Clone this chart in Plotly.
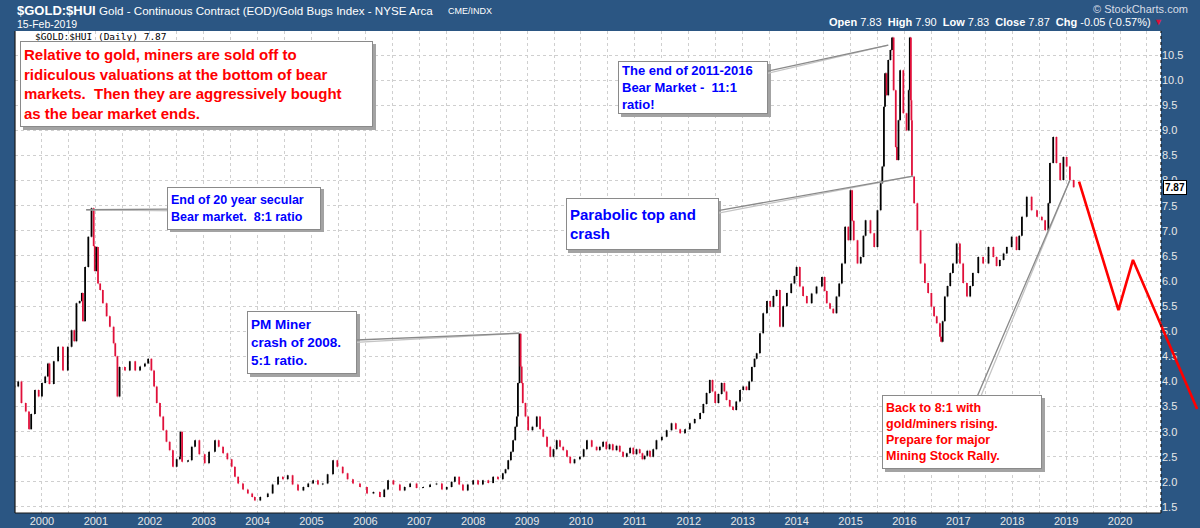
import plotly.graph_objects as go

# ---------------- data ----------------
years = [
    1999.50, 1999.56, 1999.62, 1999.70, 1999.76, 1999.80, 1999.87, 1999.94,
    2000.00, 2000.06, 2000.11, 2000.14, 2000.22, 2000.30, 2000.39, 2000.48,
    2000.55, 2000.60, 2000.64, 2000.70, 2000.74, 2000.76, 2000.80, 2000.86,
    2000.92, 2000.96, 2000.98, 2001.01, 2001.04, 2001.08, 2001.13, 2001.20,
    2001.26, 2001.33, 2001.36, 2001.40, 2001.44, 2001.54, 2001.63, 2001.73,
    2001.82, 2001.91, 2001.97, 2002.03, 2002.08, 2002.13, 2002.19, 2002.25,
    2002.31, 2002.37, 2002.43, 2002.50, 2002.56, 2002.57, 2002.60, 2002.71,
    2002.78, 2002.84, 2002.92, 2003.02, 2003.10, 2003.21, 2003.28, 2003.36,
    2003.44, 2003.52, 2003.58, 2003.64, 2003.73, 2003.82, 2003.90, 2003.95,
    2004.05, 2004.19, 2004.28, 2004.38, 2004.47, 2004.56, 2004.65, 2004.75,
    2004.85, 2004.94, 2005.03, 2005.12, 2005.21, 2005.30, 2005.40, 2005.48,
    2005.58, 2005.67, 2005.77, 2005.90, 2006.03, 2006.15, 2006.27, 2006.35,
    2006.42, 2006.52, 2006.64, 2006.73, 2006.83, 2006.95, 2007.07, 2007.20,
    2007.32, 2007.42, 2007.51, 2007.60, 2007.66, 2007.74, 2007.81, 2007.90,
    2008.00, 2008.09, 2008.18, 2008.28, 2008.37, 2008.46, 2008.55, 2008.60,
    2008.65, 2008.70, 2008.74, 2008.78, 2008.81, 2008.83, 2008.86, 2008.88,
    2008.90, 2008.92, 2008.97, 2009.02, 2009.10, 2009.18, 2009.24, 2009.30,
    2009.37, 2009.43, 2009.49, 2009.55, 2009.61, 2009.67, 2009.74, 2009.80,
    2009.88, 2009.98, 2010.05, 2010.11, 2010.20, 2010.29, 2010.35, 2010.41,
    2010.47, 2010.53, 2010.59, 2010.66, 2010.72, 2010.78, 2010.85, 2010.91,
    2010.97, 2011.03, 2011.09, 2011.14, 2011.18, 2011.23, 2011.28, 2011.34,
    2011.40, 2011.50, 2011.59, 2011.68, 2011.76, 2011.84, 2011.93, 2012.02,
    2012.11, 2012.21, 2012.27, 2012.33, 2012.39, 2012.44, 2012.49, 2012.55,
    2012.61, 2012.66, 2012.70, 2012.76, 2012.82, 2012.88, 2012.95, 2013.01,
    2013.07, 2013.12, 2013.17, 2013.22, 2013.26, 2013.32, 2013.38, 2013.45,
    2013.51, 2013.57, 2013.63, 2013.69, 2013.75, 2013.82, 2013.90, 2013.96,
    2014.00, 2014.06, 2014.12, 2014.19, 2014.28, 2014.37, 2014.47, 2014.52,
    2014.56, 2014.62, 2014.68, 2014.74, 2014.79, 2014.84, 2014.90, 2014.96,
    2015.00, 2015.03, 2015.06, 2015.13, 2015.19, 2015.24, 2015.28, 2015.37,
    2015.44, 2015.50, 2015.56, 2015.59, 2015.62, 2015.64, 2015.67, 2015.70,
    2015.74, 2015.77, 2015.80, 2015.84, 2015.86, 2015.89, 2015.92, 2015.98,
    2016.04, 2016.08, 2016.10, 2016.12, 2016.13, 2016.14, 2016.18, 2016.24,
    2016.30, 2016.38, 2016.44, 2016.50, 2016.55, 2016.60, 2016.66, 2016.68,
    2016.71, 2016.75, 2016.80, 2016.85, 2016.90, 2016.97, 2017.03, 2017.09,
    2017.16, 2017.22, 2017.27, 2017.37, 2017.46, 2017.56, 2017.65, 2017.71,
    2017.77, 2017.84, 2017.90, 2017.99, 2018.08, 2018.13, 2018.18, 2018.27,
    2018.36, 2018.46, 2018.55, 2018.61, 2018.67, 2018.70, 2018.76, 2018.82,
    2018.89, 2018.95, 2019.01, 2019.07, 2019.14,
]
ratio = [
    3.90, 4.00, 3.57, 3.40, 3.05, 3.35, 3.83, 3.70,
    3.97, 4.10, 4.36, 3.95, 4.40, 4.69, 4.22, 4.69,
    5.02, 4.80, 5.56, 5.60, 5.76, 5.20, 6.28, 6.88,
    7.45, 6.70, 6.20, 6.68, 5.95, 5.82, 5.56, 5.30,
    5.09, 4.76, 4.50, 3.70, 4.29, 4.22, 4.40, 4.22,
    4.30, 4.36, 4.45, 4.22, 3.90, 3.57, 3.30, 3.03,
    2.80, 2.63, 2.30, 2.45, 2.50, 3.00, 2.40, 2.43,
    2.70, 2.83, 2.55, 2.37, 2.60, 2.83, 2.70, 2.57,
    2.45, 2.30, 2.10, 1.97, 1.85, 1.77, 1.70, 1.63,
    1.70, 1.77, 1.95, 2.10, 2.05, 2.13, 1.95, 1.83,
    1.90, 1.97, 2.03, 1.95, 1.97, 2.15, 2.43, 2.30,
    2.17, 2.05, 1.97, 1.90, 1.77, 1.80, 1.70, 1.85,
    2.03, 1.95, 1.83, 1.90, 1.97, 1.88, 1.90, 1.95,
    1.97, 1.85, 1.90, 2.00, 2.10, 1.95, 1.83, 1.95,
    2.03, 1.95, 2.03, 1.98, 2.10, 2.05, 2.17, 2.25,
    2.43, 2.60, 2.83, 3.10, 3.30, 3.97, 4.95, 4.30,
    3.97, 3.57, 3.30, 3.03, 3.10, 3.30, 3.05, 2.90,
    2.70, 2.50, 2.65, 2.83, 2.70, 2.63, 2.50, 2.37,
    2.45, 2.50, 2.65, 2.83, 2.70, 2.63, 2.70, 2.80,
    2.65, 2.75, 2.63, 2.72, 2.60, 2.50, 2.57, 2.68,
    2.55, 2.65, 2.57, 2.45, 2.52, 2.62, 2.50, 2.65,
    2.83, 2.90, 3.03, 3.17, 3.05, 2.97, 3.05, 3.17,
    3.25, 3.37, 3.55, 3.77, 4.03, 3.80, 3.57, 3.75,
    3.97, 3.80, 3.63, 3.50, 3.43, 3.60, 3.83, 3.90,
    3.83, 4.00, 4.29, 4.45, 4.56, 4.96, 5.36, 5.60,
    5.49, 5.70, 5.82, 5.09, 5.50, 5.76, 5.95, 6.10,
    6.28, 5.89, 5.70, 5.56, 5.75, 5.89, 6.08, 5.80,
    5.56, 5.45, 5.36, 5.69, 5.95, 6.35, 7.08, 6.81,
    7.81, 7.20, 6.81, 6.35, 6.48, 6.90, 7.21, 6.95,
    6.68, 7.41, 7.95, 8.28, 9.47, 10.14, 9.70, 10.40,
    10.60, 10.85, 9.80, 8.67, 8.41, 9.20, 10.20, 9.34,
    9.00, 9.80, 10.85, 9.60, 9.20, 8.08, 7.55, 7.01,
    6.35, 5.96, 5.76, 5.49, 5.30, 5.16, 4.89, 4.79,
    5.20, 5.69, 5.90, 6.16, 6.35, 6.75, 6.35, 5.96,
    5.69, 5.90, 6.16, 6.48, 6.35, 6.68, 6.48, 6.30,
    6.42, 6.55, 6.68, 6.88, 6.62, 6.90, 7.28, 7.68,
    7.41, 7.28, 7.21, 7.01, 7.55, 8.35, 8.87, 8.35,
    8.01, 8.47, 8.28, 8.01, 7.87,
]
# hand-drawn projection (red line)
proj_years = [2019.24, 2019.97, 2020.24, 2021.43]
proj_ratio = [7.98, 5.42, 6.42, 3.45]

x_ticks = list(range(2000, 2021))
y_ticks = [1.5 + 0.5 * i for i in range(19)]

quote = {"Open": "7.83", "High": "7.90", "Low": "7.83", "Close": "7.87", "Chg": "-0.05 (-0.57%)"}
last_value = 7.87

# ---------------- styling ----------------
W, H = 1200, 528
ML, MR, MT, MB = 15, 0, 31, 15
PLOT_RIGHT = 1161
BG = "#2b5683"
GRID = "#cfcfcf"
RED = "#ff0000"
BLUE = "#0000ff"
FONT = "Liberation Sans, Arial, sans-serif"

XR = [1999.50, 2020.76]
YR = [1.38, 10.98]
dom_r = (PLOT_RIGHT - ML) / (W - ML - MR)
XR2 = [XR[0], XR[0] + (XR[1] - XR[0]) / dom_r]


def px_x(p):
    return (p - ML) / (W - ML - MR)


def px_y(p):
    return (H - MB - p) / (H - MT - MB)


opens = [ratio[0]] + ratio[:-1]
highs = [max(o, c) for o, c in zip(opens, ratio)]
lows = [min(o, c) for o, c in zip(opens, ratio)]

fig = go.Figure()
fig.add_trace(go.Ohlc(
    x=years, open=opens, high=highs, low=lows, close=ratio,
    increasing=dict(line=dict(color="#000000", width=1.8)),
    decreasing=dict(line=dict(color="#e0103a", width=1.8)),
    tickwidth=0.5, xaxis="x", yaxis="y", showlegend=False, hoverinfo="skip",
))
fig.add_trace(go.Scatter(
    x=proj_years, y=proj_ratio, mode="lines",
    line=dict(color=RED, width=2.6), xaxis="x2", yaxis="y2",
    showlegend=False, hoverinfo="skip",
))

shapes = [
    dict(type="rect", xref="paper", yref="paper", x0=0, x1=dom_r, y0=0, y1=1,
         fillcolor="white", line=dict(width=0), layer="below"),
    dict(type="line", xref="paper", yref="paper", x0=0, x1=0, y0=0, y1=1,
         line=dict(color="#1a1a1a", width=1.2)),
    dict(type="line", xref="paper", yref="paper", x0=0, x1=dom_r, y0=0, y1=0,
         line=dict(color="#1a1a1a", width=1.2)),
    dict(type="line", xref="paper", yref="paper", x0=dom_r, x1=dom_r, y0=0, y1=1,
         line=dict(color="#1a1a1a", width=1.2, dash="dot")),
]

ann = []
# header
ann.append(dict(text="<b>$GOLD:$HUI</b>", x=px_x(15), y=px_y(11), xref="paper", yref="paper",
                xanchor="left", yanchor="middle", showarrow=False,
                font=dict(family=FONT, size=13, color="white")))
ann.append(dict(text="Gold - Continuous Contract (EOD)/Gold Bugs Index - NYSE Arca",
                x=px_x(97), y=px_y(11), xref="paper", yref="paper",
                xanchor="left", yanchor="middle", showarrow=False,
                font=dict(family=FONT, size=11.6, color="white")))
ann.append(dict(text="CME/INDX", x=px_x(446), y=px_y(11), xref="paper", yref="paper",
                xanchor="left", yanchor="middle", showarrow=False,
                font=dict(family=FONT, size=9, color="white")))
ann.append(dict(text="15-Feb-2019", x=px_x(15), y=px_y(24), xref="paper", yref="paper",
                xanchor="left", yanchor="middle", showarrow=False,
                font=dict(family=FONT, size=10.5, color="white")))
ann.append(dict(text="© StockCharts.com", x=px_x(1190), y=px_y(9), xref="paper", yref="paper",
                xanchor="right", yanchor="middle", showarrow=False,
                font=dict(family=FONT, size=11, color="#d8dde6")))
qtxt = "  ".join(f"<b>{k}</b> {v}" for k, v in quote.items())
ann.append(dict(text=qtxt, x=px_x(1153), y=px_y(22), xref="paper", yref="paper",
                xanchor="right", yanchor="middle", showarrow=False,
                font=dict(family=FONT, size=11, color="white")))
ann.append(dict(text="▼", x=px_x(1152), y=px_y(22), xref="paper", yref="paper",
                xanchor="left", yanchor="middle", showarrow=False,
                font=dict(family=FONT, size=9, color="#e0103a")))
# legend text inside plot
ann.append(dict(text="$GOLD:$HUI (Daily) 7.87", x=px_x(33), y=px_y(37), xref="paper", yref="paper",
                xanchor="left", yanchor="middle", showarrow=False,
                font=dict(family="DejaVu Sans Mono, monospace", size=9.5, color="black")))
# last value tag on axis
ann.append(dict(text=f"<b>{last_value:.2f}</b>", x=px_x(1163), y=last_value, xref="paper", yref="y",
                xanchor="left", yanchor="middle", showarrow=False, bgcolor="white",
                bordercolor="black", borderwidth=1, borderpad=1,
                font=dict(family=FONT, size=10, color="black")))


def box(text, cx, cy, w, h, size, color, target=None, off=None):
    pad = 3
    sh = 3
    # drop shadow
    shapes.append(dict(type="rect", xref="paper", yref="paper",
                       x0=px_x(cx - w / 2 + sh), x1=px_x(cx + w / 2 + sh),
                       y0=px_y(cy + h / 2 + sh), y1=px_y(cy - h / 2 + sh),
                       fillcolor="#a3a3a3", line=dict(width=0), layer="above"))
    common = dict(align="left", valign="middle", width=w - 2 * pad - 2, height=h - 2 * pad - 2,
                  borderpad=pad, borderwidth=1, bgcolor="white", bordercolor="#8a8a8a",
                  font=dict(family=FONT, size=size, color=color))
    if target is None:
        ann.append(dict(text=text, x=px_x(cx), y=px_y(cy), xref="paper", yref="paper",
                        xanchor="center", yanchor="middle", showarrow=False, **common))
    else:
        ax, ay = off
        # second (lighter) callout line forming the wedge
        ann.append(dict(text="", x=target[0], y=target[1], xref="x", yref="y",
                        ax=ax + sh, ay=ay + sh, showarrow=True, arrowhead=0, arrowwidth=1.3,
                        arrowcolor="#c4c4c4"))
        ann.append(dict(text=text, x=target[0], y=target[1], xref="x", yref="y",
                        ax=ax, ay=ay, showarrow=True, arrowhead=0, arrowwidth=1.3,
                        arrowcolor="#8a8a8a", **common))


NB = "\u00a0"
box("<b>Relative to gold, miners are sold off to<br>ridiculous valuations at the bottom of bear<br>"
    f"markets. {NB}Then they are aggressively bought<br>as the bear market ends.</b>",
    196.5, 84, 353, 86, 15, RED)
box(f"<b>End of 20 year secular<br>Bear market. {NB}8:1 ratio</b>", 244, 207.5, 154, 43, 12.5, BLUE,
    target=(2000.82, 7.42), off=(158, -1))
box("<b>PM Miner<br>crash of 2008.<br>5:1 ratio.</b>", 302, 342.5, 110, 63, 13.5, BLUE,
    target=(2008.85, 4.96), off=(-217, 9))
box(f"<b>The end of 2011-2016<br>Bear Market - {NB}11:1<br>ratio!</b>", 693, 87.5, 150, 53, 13, BLUE,
    target=(2015.70, 10.70), off=(-195, 42))
box("<b>Parabolic top and<br>crash</b>", 641.5, 224, 153, 52, 15, BLUE,
    target=(2016.16, 8.09), off=(-271, 48))
box("<b>Back to 8:1 with<br>gold/miners rising.<br>Prepare for major<br>Mining Stock Rally.</b>",
    962, 432, 160, 74, 12.5, RED, target=(2019.07, 8.01), off=(-108, 252))

fig.update_layout(
    width=W, height=H, margin=dict(l=ML, r=MR, t=MT, b=MB, pad=0),
    paper_bgcolor=BG, plot_bgcolor="rgba(0,0,0,0)",
    font=dict(family=FONT, size=11, color="#e8e8e8"),
    showlegend=False,
    xaxis=dict(domain=[0, dom_r], range=XR, anchor="y", tickmode="array", tickvals=x_ticks,
               ticktext=[str(v) for v in x_ticks], showgrid=True, gridcolor=GRID, griddash="dot",
               gridwidth=1, zeroline=False, showline=False, ticks="",
               tickfont=dict(family=FONT, size=11, color="#e8e8e8"),
               minor=dict(tickmode="array", tickvals=[v + 0.5 for v in range(1999, 2021)],
                          showgrid=True, gridcolor=GRID, griddash="dot", gridwidth=1),
               rangeslider=dict(visible=False), fixedrange=True),
    yaxis=dict(domain=[0, 1], range=YR, anchor="x", side="right", tickmode="array",
               tickvals=y_ticks, ticktext=[f"{v:.1f}" for v in y_ticks], showgrid=True,
               gridcolor=GRID, griddash="dot", gridwidth=1, zeroline=False, ticks="",
               tickfont=dict(family=FONT, size=11, color="#e8e8e8"), fixedrange=True),
    xaxis2=dict(domain=[0, 1], range=XR2, anchor="y2", visible=False, fixedrange=True),
    yaxis2=dict(domain=[0, 1], range=YR, anchor="x2", visible=False, fixedrange=True),
    shapes=shapes, annotations=ann,
)

fig.write_html("out.html")
